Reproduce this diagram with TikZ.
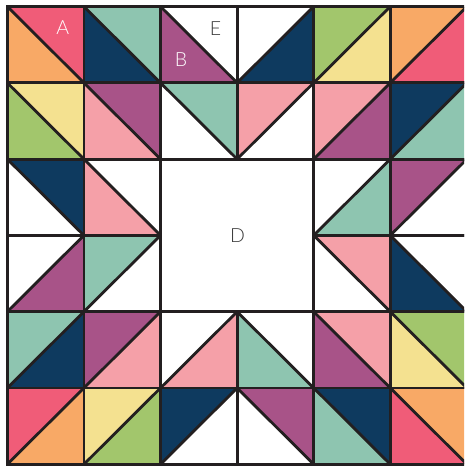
\documentclass[tikz,border=0pt]{standalone}
\usepackage{fontspec}
\newfontfamily\labfont{Lato Light}
\definecolor{cred}{HTML}{F05C78}
\definecolor{corange}{HTML}{F8A966}
\definecolor{cteal}{HTML}{8EC5B0}
\definecolor{cnavy}{HTML}{0E3A5F}
\definecolor{cpurple}{HTML}{A85388}
\definecolor{cpink}{HTML}{F5A0A8}
\definecolor{cyellow}{HTML}{F4E190}
\definecolor{cgreen}{HTML}{A2C66C}
\definecolor{cline}{HTML}{231F20}
\definecolor{ctext}{HTML}{3A3A3A}
% \qback{col}{row}{upper-right}{lower-left}  diagonal from top-left to bottom-right
\newcommand\qback[4]{%
  \fill[#3] (#1,#2) -- (#1+1,#2) -- (#1+1,#2+1) -- cycle;
  \fill[#4] (#1,#2) -- (#1,#2+1) -- (#1+1,#2+1) -- cycle;
  \draw[qline] (#1,#2) rectangle (#1+1,#2+1);
  \draw[qline] (#1,#2) -- (#1+1,#2+1);}
% \qfwd{col}{row}{upper-left}{lower-right}  diagonal from bottom-left to top-right
\newcommand\qfwd[4]{%
  \fill[#3] (#1,#2) -- (#1+1,#2) -- (#1,#2+1) -- cycle;
  \fill[#4] (#1+1,#2) -- (#1+1,#2+1) -- (#1,#2+1) -- cycle;
  \draw[qline] (#1,#2) rectangle (#1+1,#2+1);
  \draw[qline] (#1,#2+1) -- (#1+1,#2);}
\begin{document}
\begin{tikzpicture}[
  qline/.style={draw=cline,line width=2.8pt,line join=miter},
  lab/.style={font=\labfont\fontsize{19.5}{20}\selectfont,inner sep=0pt}]
\useasboundingbox (0,0) rectangle (464pt,-466pt);
\fill[white] (0,0) rectangle (464pt,-466pt);
\clip (0,0) rectangle (464pt,-466pt);
\begin{scope}[shift={(7.3pt,-6.5pt)},x=76.6pt,y=-76.3pt]
% row 0
\qback{0}{0}{cred}{corange}
\qback{1}{0}{cteal}{cnavy}
\qback{2}{0}{white}{cpurple}
\qfwd{3}{0}{white}{cnavy}
\qfwd{4}{0}{cgreen}{cyellow}
\qfwd{5}{0}{corange}{cred}
% row 1
\qback{0}{1}{cyellow}{cgreen}
\qback{1}{1}{cpurple}{cpink}
\qback{2}{1}{cteal}{white}
\qfwd{3}{1}{cpink}{white}
\qfwd{4}{1}{cpink}{cpurple}
\qfwd{5}{1}{cnavy}{cteal}
% row 2
\qback{0}{2}{cnavy}{white}
\qback{1}{2}{white}{cpink}
\qfwd{4}{2}{white}{cteal}
\qfwd{5}{2}{cpurple}{white}
% row 3
\qfwd{0}{3}{white}{cpurple}
\qfwd{1}{3}{cteal}{white}
\qback{4}{3}{cpink}{white}
\qback{5}{3}{white}{cnavy}
% row 4
\qfwd{0}{4}{cteal}{cnavy}
\qfwd{1}{4}{cpurple}{cpink}
\qfwd{2}{4}{white}{cpink}
\qback{3}{4}{white}{cteal}
\qback{4}{4}{cpink}{cpurple}
\qback{5}{4}{cgreen}{cyellow}
% row 5
\qfwd{0}{5}{cred}{corange}
\qfwd{1}{5}{cyellow}{cgreen}
\qfwd{2}{5}{cnavy}{white}
\qback{3}{5}{cpurple}{white}
\qback{4}{5}{cnavy}{cteal}
\qback{5}{5}{corange}{cred}
% centre square
\draw[qline,fill=white] (2,2) rectangle (4,4);
\end{scope}
\node[lab,text=white] (labA) at (62.7pt,-27.5pt) {A};
\node[lab,text=white] (labB) at (181pt,-60pt) {B};
\node[lab,text=ctext] (labE) at (215.5pt,-28.5pt) {E};
\node[lab,text=ctext] (labD) at (237.5pt,-235.5pt) {D};
\end{tikzpicture}
\end{document}
